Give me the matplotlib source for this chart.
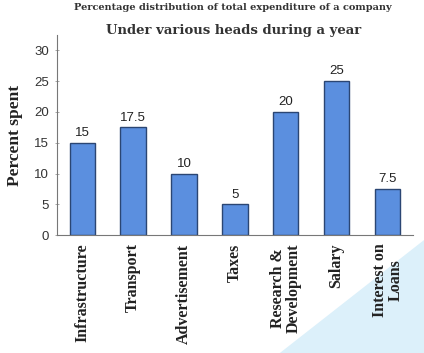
import matplotlib
matplotlib.use('Agg')
from matplotlib import pyplot as plt
from matplotlib.patches import Polygon

# データ
heads = ['Infrastructure', 'Transport', 'Advertisement', 'Taxes',
         'Research &\nDevelopment', 'Salary', 'Interest on\nLoans']
percent = [15, 17.5, 10, 5, 20, 25, 7.5]
value_labels = ['15', '17.5', '10', '5', '20', '25', '7.5']
yticks = [0, 5, 10, 15, 20, 25, 30]

fig = plt.figure(figsize=(4.24, 3.53), dpi=100)
fig.patch.set_facecolor('white')

# 右下の薄い三角形
tri = Polygon([(0.66, 0.0), (1.0, 0.32), (1.0, 0.0)], closed=True,
              transform=fig.transFigure, facecolor='#dcf0fa',
              edgecolor='none', zorder=-5)
fig.patches.append(tri)

ax = fig.add_axes([0.134, 0.334, 0.840, 0.567])
ax.set_facecolor('none')

x = list(range(len(heads)))
ax.bar(x, percent, width=0.5, color='#5b8fdf', edgecolor='#2b4673',
       linewidth=1.0, zorder=2)

for xi, v, lab in zip(x, percent, value_labels):
    ax.text(xi, v + 0.6, lab, ha='center', va='bottom',
            fontsize=9.5, family='Liberation Sans', color='#222222')

ax.set_xlim(-0.5, 6.5)
ax.set_ylim(0, 32.5)
ax.set_yticks(yticks)
ax.set_yticklabels([str(t) for t in yticks], fontsize=9.5,
                   family='Liberation Sans', color='#333333')
ax.set_xticks(x)
ax.set_xticklabels(heads, rotation=90, fontsize=11.5, family='Liberation Serif',
                   fontweight='bold', color='#222222', va='top',
                   linespacing=1.0)
ax.tick_params(axis='x', length=0, pad=6)
ax.tick_params(axis='y', length=3, width=0.6, color='#999999', pad=4,
               direction='inout')

for s in ['top', 'right']:
    ax.spines[s].set_visible(False)
ax.spines['left'].set_color('#777777')
ax.spines['left'].set_linewidth(0.8)
ax.spines['bottom'].set_color('#777777')
ax.spines['bottom'].set_linewidth(0.8)

ax.set_ylabel('Percent spent', fontsize=12.5, family='Liberation Serif',
              fontweight='bold', color='#222222', labelpad=8)

fig.text(0.55, 0.98, 'Percentage distribution of total expenditure of a company',
         ha='center', va='center', fontsize=7, family='DejaVu Serif',
         fontweight='bold', color='#333333')
fig.text(0.55, 0.915, 'Under various heads during a year',
         ha='center', va='center', fontsize=9.5, family='DejaVu Serif',
         fontweight='bold', color='#333333')

fig.savefig('out.png', dpi=100, facecolor='white')
